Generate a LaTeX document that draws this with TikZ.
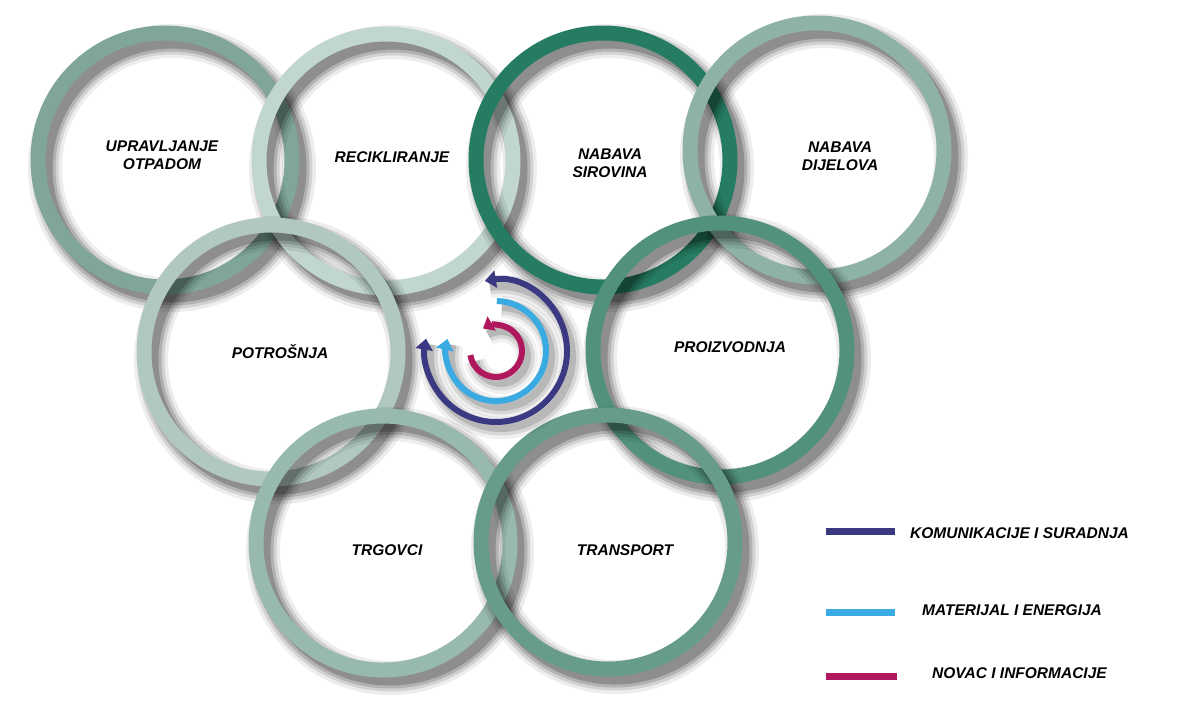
\documentclass[tikz,border=0pt]{standalone}
\usepackage{fontspec}
\setmainfont{Liberation Sans}
\usetikzlibrary{arrows.meta}
\definecolor{ringupr}{RGB}{127,166,153}
\definecolor{ringrec}{RGB}{192,214,206}
\definecolor{ringsir}{RGB}{38,124,98}
\definecolor{ringdij}{RGB}{142,178,166}
\definecolor{ringpot}{RGB}{176,200,191}
\definecolor{ringpro}{RGB}{82,146,122}
\definecolor{ringtrg}{RGB}{152,186,174}
\definecolor{ringtra}{RGB}{102,156,136}
\definecolor{flowkom}{RGB}{59,57,130}
\definecolor{flowmat}{RGB}{58,170,226}
\definecolor{flownov}{RGB}{176,24,94}
\tikzset{
  ring/.style={line width=15pt},
  ringshade/.style={draw=black},
  lbl/.style={font=\fontsize{15.5}{18}\selectfont\bfseries\itshape,align=center,fill=white,inner sep=5pt},
  leg/.style={font=\fontsize{15.5}{18}\selectfont\bfseries\itshape,inner sep=0pt},
  flow/.style={line width=6pt},
  legbar/.style={line width=7pt}
}
\begin{document}
\begin{tikzpicture}[line join=round,>={Triangle[length=11pt,width=17pt]},x=1pt,y=-1pt]
  \useasboundingbox (0,0) rectangle (1195,724);
  \fill[white] (0,0) rectangle (1195,724);
  % rings, each with a soft shadow
  \foreach \cx/\cy/\col in {165/160/ringupr,386/161/ringrec,603/160/ringsir,817/150/ringdij,
                            271/352/ringpot,720/350/ringpro,383/543/ringtrg,608/542/ringtra}{
    \draw[ringshade,line width=34pt,opacity=0.07] (\cx+7,\cy+8) circle[radius=127pt];
    \draw[ringshade,line width=27pt,opacity=0.11] (\cx+7,\cy+8) circle[radius=127pt];
    \draw[ringshade,line width=21pt,opacity=0.15] (\cx+7,\cy+8) circle[radius=127pt];
    \draw[ringshade,line width=15pt,opacity=0.20] (\cx+7,\cy+8) circle[radius=127pt];
    \draw[ring,color=\col] (\cx,\cy) circle[radius=127pt];
  }
  % flows in the middle
  \coordinate (mid) at (496,351);
  \coordinate (midshade) at (501,357);
  \foreach \w/\o in {22/0.06,15/0.10,8/0.14}{
    \draw[line width=\w pt,black,opacity=\o] (midshade) ++(99:71pt) arc[start angle=99,end angle=-190,radius=71pt];
    \draw[line width=\w pt,black,opacity=\o] (midshade) ++(89:50pt) arc[start angle=89,end angle=-194,radius=50pt];
    \draw[line width=\w pt,black,opacity=\o] (midshade) ++(-171:26pt) arc[start angle=-171,end angle=120,radius=26pt];
  }
  \draw[flow,<->,color=flowkom] (mid) ++(99:71pt) arc[start angle=99,end angle=-190,radius=71pt];
  \draw[flow,->,color=flowmat] (mid) ++(89:50pt) arc[start angle=89,end angle=-194,radius=50pt];
  \draw[flow,->,color=flownov,>={Triangle[length=10pt,width=16pt]}] (mid) ++(-171:26pt) arc[start angle=-171,end angle=120,radius=26pt];
  % labels
  \node[lbl] (upr) at (162,155) {UPRAVLJANJE\\OTPADOM};
  \node[lbl] (rec) at (392,157) {RECIKLIRANJE};
  \node[lbl] (sir) at (610,163) {NABAVA\\SIROVINA};
  \node[lbl] (dij) at (840,156) {NABAVA\\DIJELOVA};
  \node[lbl] (pot) at (280,352) {POTROŠNJA};
  \node[lbl] (pro) at (730,347) {PROIZVODNJA};
  \node[lbl] (trg) at (387,550) {TRGOVCI};
  \node[lbl] (tra) at (625,550) {TRANSPORT};
  % legend
  \coordinate (k1) at (826,531); \coordinate (k2) at (895,531);
  \coordinate (m1) at (826,612); \coordinate (m2) at (895,612);
  \coordinate (n1) at (826,676); \coordinate (n2) at (897,676);
  \draw[legbar,color=flowkom] (k1) -- (k2);
  \draw[legbar,color=flowmat] (m1) -- (m2);
  \draw[legbar,color=flownov] (n1) -- (n2);
  \node[leg,anchor=west] (kom) at (910,533) {KOMUNIKACIJE I SURADNJA};
  \node[leg,anchor=west] (mat) at (922,610) {MATERIJAL I ENERGIJA};
  \node[leg,anchor=west] (nov) at (932,673) {NOVAC I INFORMACIJE};
\end{tikzpicture}
\end{document}
